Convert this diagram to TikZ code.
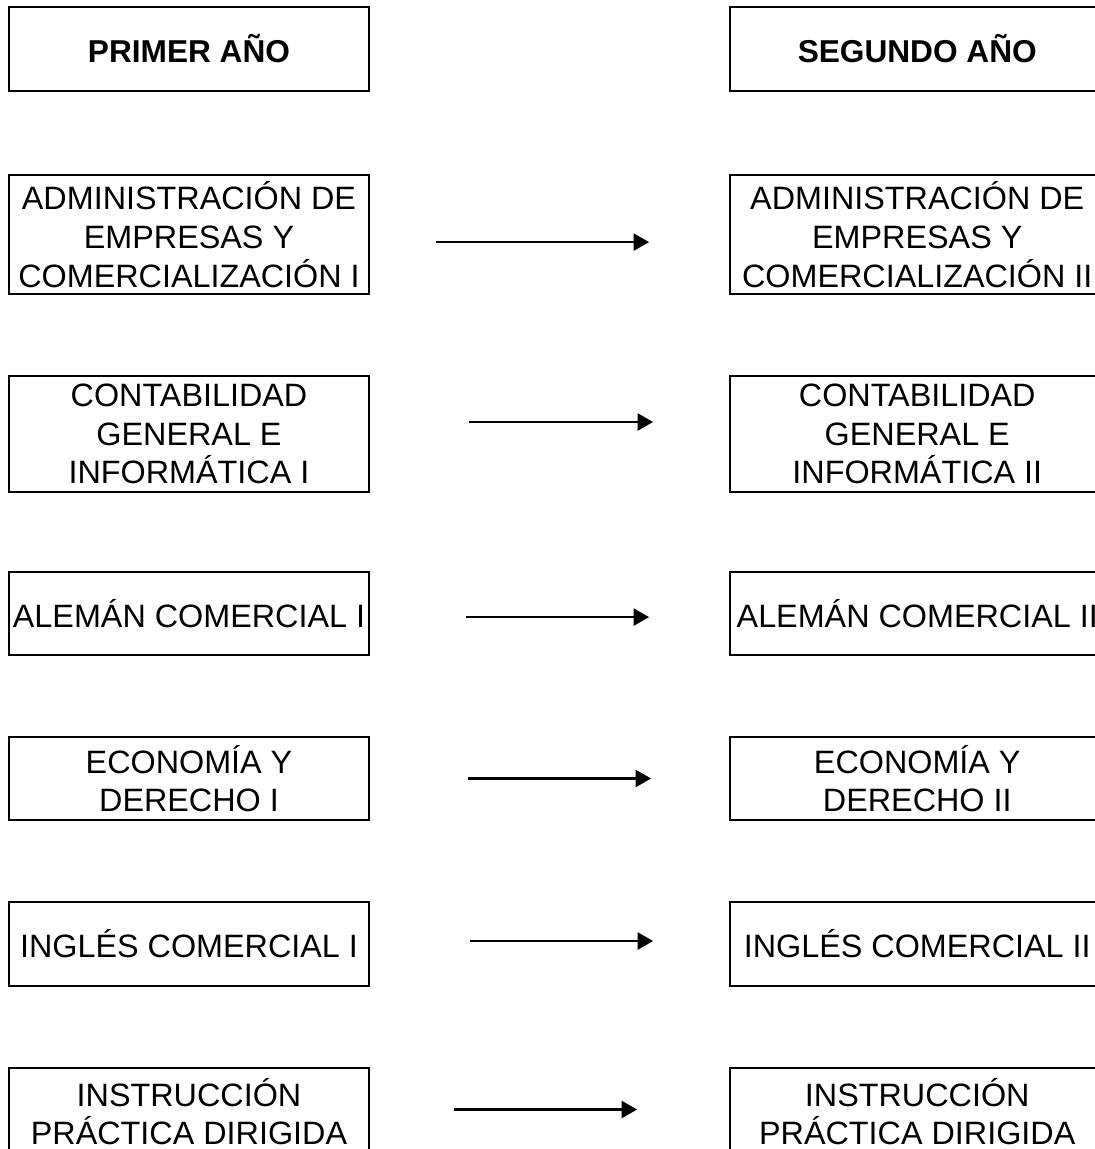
\documentclass[tikz,border=0pt]{standalone}
\usepackage{fontspec}
\setmainfont{Liberation Sans}
\usepackage{tikz}
\usetikzlibrary{positioning, arrows.meta}
\tikzset{
materia/.style={draw, line width=1.6pt, align=center, inner sep=1pt, font=\fontsize{23}{27.5}\selectfont}, % box of one subject
primero/.style={materia, minimum width=9cm}, % first year column
segundo/.style={materia, minimum width=9.35cm}, % second year column
titulo/.style={font=\bfseries\fontsize{22.5}{27.5}\selectfont}, % header text
flecha/.style={line width=1.9pt, -{Triangle[length=11pt,width=12pt]}}, % arrow between the years
node distance=8.975cm, % gap between the two columns
}

\begin{document}
\begin{tikzpicture}
\clip (0,0) rectangle (27.375,-28.725);
\useasboundingbox (0,0) rectangle (27.375,-28.725);
% first year
\node[primero, minimum height=2.1cm, titulo] (P0) at (4.725,-1.225) {PRIMER AÑO};
\node[primero, minimum height=2.975cm] (P1) at (4.725,-5.8625) {ADMINISTRACIÓN DE\\EMPRESAS Y\\COMERCIALIZACIÓN I};
\node[primero, minimum height=2.9cm] (P2) at (4.725,-10.85) {CONTABILIDAD\\GENERAL E\\INFORMÁTICA I};
\node[primero, minimum height=2.075cm] (P3) at (4.725,-15.3375) {ALEMÁN COMERCIAL I};
\node[primero, minimum height=2.075cm] (P4) at (4.725,-19.4625) {ECONOMÍA Y\\DERECHO I};
\node[primero, minimum height=2.1cm] (P5) at (4.725,-23.6) {INGLÉS COMERCIAL I};
\node[primero, minimum height=2.175cm] (P6) at (4.725,-27.7875) {INSTRUCCIÓN\\PRÁCTICA DIRIGIDA};
% second year
\node[segundo, minimum height=2.1cm, titulo, right=of P0] (S0) {SEGUNDO AÑO};
\node[segundo, minimum height=2.975cm, right=of P1] (S1) {ADMINISTRACIÓN DE\\EMPRESAS Y\\COMERCIALIZACIÓN II};
\node[segundo, minimum height=2.9cm, right=of P2] (S2) {CONTABILIDAD\\GENERAL E\\INFORMÁTICA II};
\node[segundo, minimum height=2.075cm, right=of P3] (S3) {ALEMÁN COMERCIAL II};
\node[segundo, minimum height=2.075cm, right=of P4] (S4) {ECONOMÍA Y\\DERECHO II};
\node[segundo, minimum height=2.1cm, right=of P5] (S5) {INGLÉS COMERCIAL II};
\node[segundo, minimum height=2.175cm, right=of P6] (S6) {INSTRUCCIÓN\\PRÁCTICA DIRIGIDA};
% arrows
\draw[flecha, shorten <=1.65cm, shorten >=2cm] ([yshift=-0.19cm]P1.east) -- ([yshift=-0.19cm]S1.west);
\draw[flecha, shorten <=2.475cm, shorten >=1.9cm] ([yshift=0.3cm]P2.east) -- ([yshift=0.3cm]S2.west);
\draw[flecha, shorten <=2.4cm, shorten >=2cm] ([yshift=-0.09cm]P3.east) -- ([yshift=-0.09cm]S3.west);
\draw[flecha, shorten <=2.45cm, shorten >=1.95cm] (P4) -- (S4);
\draw[flecha, shorten <=2.5cm, shorten >=1.9cm] ([yshift=0.075cm]P5.east) -- ([yshift=0.075cm]S5.west);
\draw[flecha, shorten <=2.1cm, shorten >=2.3cm] ([yshift=0.05cm]P6.east) -- ([yshift=0.05cm]S6.west);
\end{tikzpicture}
\end{document}
